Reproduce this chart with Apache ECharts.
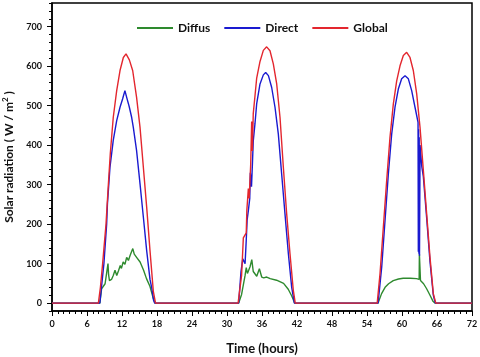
<!DOCTYPE html>
<html>
<head>
<meta charset="utf-8">
<script src="https://cdn.jsdelivr.net/npm/echarts@6/dist/echarts.min.js"></script>
<style>
  html, body { margin: 0; padding: 0; background: #fff; }
  #chart { width: 480px; height: 357px; }
</style>
</head>
<body>
<div id="chart"></div>
<script>
// values, hours / W.m-2
const diffusHours = [0, 8.2, 8.5, 9.1, 9.4, 9.6, 9.7, 9.85, 10.2, 10.5, 10.8, 11.1, 11.4, 11.7, 11.9, 12.2, 12.5, 12.8, 13.1, 13.4, 13.6, 13.85, 14.1, 14.5, 15.1, 15.7, 16.2, 16.8, 17.3, 17.65,
  32.0, 32.5, 33.1, 33.3, 33.5, 33.7, 33.95, 34.25, 34.5, 34.8, 35.1, 35.55, 35.95, 36.3, 36.8, 37.4, 38.5, 39.7, 40.5, 41.1, 41.6,
  55.9, 56.5, 57.1, 57.7, 58.5, 59.4, 60.2, 61.4, 62.5, 62.94, 62.98, 63.12, 63.17, 63.7, 64.2, 64.8, 65.3, 65.65, 72];
const diffusValues = [0, 0, 36, 49, 52, 100, 72, 57, 60, 70, 83, 70, 82, 95, 88, 104, 98, 116, 108, 121, 118, 138, 124, 116, 104, 83, 62, 42, 15, 0,
  0, 22, 70, 90, 75, 80, 92, 110, 80, 82, 68, 87, 66, 64, 66, 62, 58, 50, 35, 18, 0,
  0, 24, 40, 49, 57, 61, 63, 63, 62, 60, 125, 125, 57, 49, 37, 20, 5, 0, 0];

const directHours = [0, 8.2, 8.9, 9.37, 9.5, 9.94, 10.5, 11.09, 11.66, 12.1, 12.5, 12.8, 13.1, 13.26, 13.66, 13.94, 14.5, 15.09, 15.66, 16.23, 16.8, 17.1, 17.4, 17.6,
  32.0, 32.4, 32.7, 33.0, 33.1, 33.3, 33.45, 33.66, 33.9, 34.0, 34.2, 34.35, 34.5, 34.8, 35.09, 35.66, 36.23, 36.63, 37.1, 37.66, 38.23, 38.8, 39.37, 39.94, 40.52, 41.09, 41.55,
  55.9, 56.52, 57.09, 57.66, 58.23, 58.8, 59.37, 59.94, 60.52, 61.09, 61.66, 62.23, 62.75, 62.8, 62.85, 62.9, 62.95, 63.0, 63.1, 63.2, 63.4, 63.66, 64.23, 64.8, 65.37, 65.7, 72];
const directValues = [0, 0, 100, 200, 250, 344, 412, 462, 496, 517, 538, 521, 505, 496, 470, 445, 386, 302, 218, 133, 60, 38, 8, 0,
  0, 80, 112, 116, 100, 160, 210, 234, 265, 330, 295, 350, 410, 455, 505, 555, 578, 584, 576, 546, 496, 428, 327, 226, 125, 40, 0,
  0, 91, 209, 327, 428, 496, 542, 568, 576, 568, 538, 496, 458, 130, 440, 125, 420, 120, 400, 380, 345, 320, 215, 105, 20, 0, 0];

const globalHours = [0, 7.95, 8.3, 8.68, 9.26, 9.66, 10.0, 10.5, 11.09, 11.66, 12.23, 12.69, 13.0, 13.26, 13.83, 14.5, 15.09, 15.66, 16.23, 16.8, 17.37, 17.75,
  31.9, 32.5, 32.8, 33.3, 33.4, 33.66, 33.8, 34.06, 34.23, 34.35, 34.5, 34.8, 35.09, 35.66, 36.23, 36.8, 37.37, 37.94, 38.52, 39.09, 39.66, 40.23, 40.8, 41.37, 41.7,
  55.75, 56.23, 56.8, 57.37, 57.94, 58.51, 59.09, 59.66, 60.23, 60.8, 61.37, 61.94, 62.52, 63.09, 63.66, 64.23, 64.8, 65.37, 65.8, 72];
const globalValues = [0, 0, 40, 100, 200, 300, 380, 470, 538, 589, 622, 631, 627, 616, 589, 521, 445, 344, 243, 133, 30, 0,
  0, 70, 165, 178, 235, 290, 265, 350, 460, 385, 480, 525, 570, 612, 640, 649, 639, 606, 555, 470, 344, 226, 125, 32, 0,
  0, 74, 192, 310, 420, 504, 563, 601, 627, 635, 622, 589, 530, 445, 336, 226, 116, 24, 0, 0];

const radiationTicks = [0, 100, 200, 300, 400, 500, 600, 700];

const pairs = (xs, ys) => xs.map((x, i) => [x, ys[i]]);

const font = "Lato, 'DejaVu Sans', sans-serif";
const ink = "#111";

const chart = echarts.init(document.getElementById("chart"));

function lineSeries(name, hours, values, color) {
  return {
    name,
    type: "line",
    data: pairs(hours, values),
    symbol: "none",
    lineStyle: { color, width: 1.4 },
    itemStyle: { color },
  };
}

chart.setOption({
  animation: false,
  textStyle: { fontFamily: font, color: ink },
  grid: {
    left: 52, right: 8, top: 3, bottom: 46,
    containLabel: false, outerBoundsMode: "none",
    show: true, borderColor: "#000", borderWidth: 1.5, backgroundColor: "#fff",
  },
  legend: {
    top: 17, left: 132,
    icon: "rect",
    itemWidth: 36, itemHeight: 2, itemGap: 14,
    textStyle: { fontFamily: font, fontWeight: "bold", fontSize: 12, color: ink },
    data: ["Diffus", "Direct", "Global"],
  },
  xAxis: {
    type: "value",
    min: 0, max: 72, interval: 6,
    name: "Time (hours)",
    nameLocation: "middle",
    nameGap: 31,
    nameTextStyle: { fontFamily: font, fontWeight: "bold", fontSize: 13, color: ink },
    axisLine: { show: true, onZero: false, lineStyle: { color: "#000", width: 1.5 } },
    axisTick: { show: true, inside: false, length: 5, lineStyle: { color: "#000", width: 1 } },
    minorTick: { show: true, splitNumber: 6, length: 3, lineStyle: { color: "#000", width: 1 } },
    axisLabel: { fontFamily: font, fontWeight: "bold", fontSize: 9, color: ink, margin: 9, showMinLabel: true, showMaxLabel: true },
    splitLine: { show: false },
    minorSplitLine: { show: false },
  },
  yAxis: [
    {
      type: "value",
      min: -20, max: 760,
      name: "Solar radiation ( W / m{sup|2} )",
      nameLocation: "middle",
      nameGap: 34,
      nameTextStyle: {
        fontFamily: font, fontWeight: "bold", fontSize: 12, color: ink,
        rich: { sup: { fontFamily: font, fontWeight: "bold", fontSize: 8, verticalAlign: "bottom", padding: [0, 0, 8, 0], color: ink } },
      },
      axisLine: { show: true, onZero: false, lineStyle: { color: "#000", width: 1.5 } },
      axisTick: { show: true, inside: false, length: 5, customValues: radiationTicks, lineStyle: { color: "#000", width: 1 } },
      axisLabel: { fontFamily: font, fontWeight: "bold", fontSize: 9, color: ink, margin: 10, customValues: radiationTicks },
      splitLine: { show: false },
    },
    {
      // minor ticks every 20
      type: "value",
      min: -20, max: 760, interval: 20,
      position: "left",
      axisLine: { show: false, onZero: false },
      axisTick: { show: true, inside: false, length: 3, lineStyle: { color: "#000", width: 1 } },
      axisLabel: { show: false },
      splitLine: { show: false },
    },
  ],
  series: [
    lineSeries("Diffus", diffusHours, diffusValues, "#2e8a2e"),
    lineSeries("Direct", directHours, directValues, "#1a1ad0"),
    lineSeries("Global", globalHours, globalValues, "#e3262e"),
  ],
});
</script>
</body>
</html>
